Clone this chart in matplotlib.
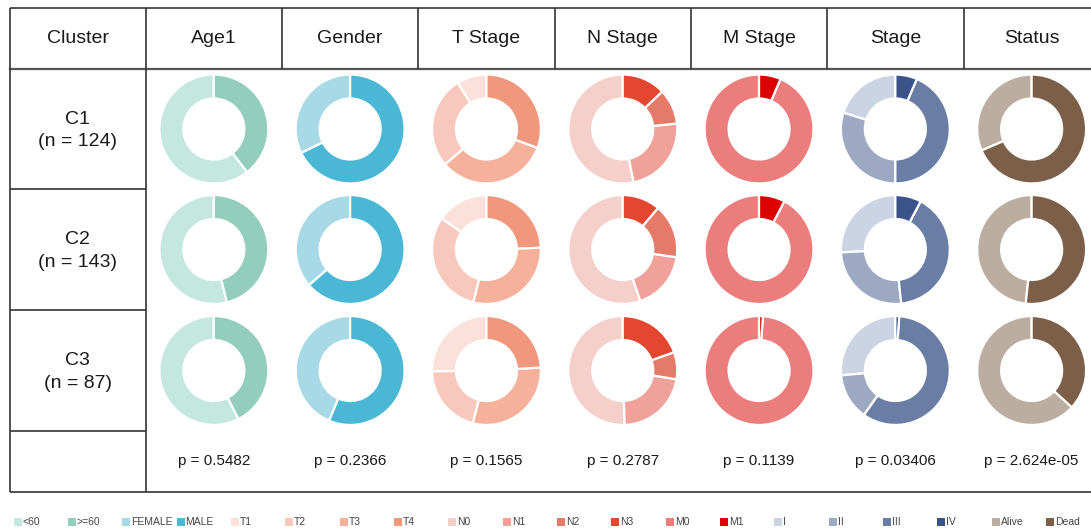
import matplotlib
matplotlib.use("Agg")
import matplotlib.pyplot as plt
from matplotlib.patches import Rectangle

plt.rcParams["font.family"] = ["Liberation Sans", "DejaVu Sans"]

# cluster labels and sizes
clusters = ["C1", "C2", "C3"]
cluster_n = [124, 143, 87]

# clinical variables (column headers)
variables = ["Age1", "Gender", "T Stage", "N Stage", "M Stage", "Stage", "Status"]

# patient counts per cluster, one list per cluster, categories in legend order
age1 = [[75, 49], [77, 66], [50, 37]]
gender = [[40, 84], [52, 91], [38, 49]]
t_stage = [[11, 34, 41, 38], [22, 44, 42, 35], [22, 18, 26, 21]]
n_stage = [[66, 29, 13, 16], [79, 25, 23, 16], [44, 19, 7, 17]]
m_stage = [[116, 8], [132, 11], [86, 1]]
stage = [[25, 37, 54, 8], [37, 37, 58, 11], [23, 12, 51, 1]]
status = [[39, 85], [69, 74], [55, 32]]

p_values = ["0.5482", "0.2366", "0.1565", "0.2787", "0.1139", "0.03406", "2.624e-05"]

# category labels per variable
age1_labels = ["<60", ">=60"]
gender_labels = ["FEMALE", "MALE"]
t_labels = ["T1", "T2", "T3", "T4"]
n_labels = ["N0", "N1", "N2", "N3"]
m_labels = ["M0", "M1"]
stage_labels = ["I", "II", "III", "IV"]
status_labels = ["Alive", "Dead"]

# colours per variable
age1_colors = ["#C4E7E0", "#93CEBD"]
gender_colors = ["#A7D9E6", "#4AB8D4"]
t_colors = ["#FCE1DB", "#F8C8BC", "#F6B19C", "#F1977B"]
n_colors = ["#F5D0CB", "#F0A29A", "#E67A68", "#E4472F"]
m_colors = ["#EB7D7D", "#DC0000"]
stage_colors = ["#CCD4E3", "#9DA8C2", "#6A7DA5", "#3B5388"]
status_colors = ["#BBAEA1", "#7C5F48"]

counts = [age1, gender, t_stage, n_stage, m_stage, stage, status]
labels = [age1_labels, gender_labels, t_labels, n_labels, m_labels, stage_labels, status_labels]
colors = [age1_colors, gender_colors, t_colors, n_colors, m_colors, stage_colors, status_colors]

W, H = 1091, 531
fig = plt.figure(figsize=(W / 100, H / 100), dpi=100)

# full-figure axes in pixel coordinates for the table grid and text
ax = fig.add_axes([0, 0, 1, 1])
ax.set_xlim(0, W)
ax.set_ylim(H, 0)
ax.axis("off")

left, first_col, col_w = 10, 145.7, 136.3
top, header_bottom = 8, 69
row_edges = [69, 189, 310, 431, 492]
right = first_col + col_w * len(variables)
line_kw = dict(color="#333333", linewidth=1.2, solid_capstyle="butt")

# outer frame and grid
ax.plot([left, right], [top, top], **line_kw)
ax.plot([left, right], [header_bottom, header_bottom], color="#555555", linewidth=1.6)
ax.plot([left, right], [row_edges[-1], row_edges[-1]], **line_kw)
ax.plot([left, left], [top, row_edges[-1]], **line_kw)
ax.plot([first_col, first_col], [top, row_edges[-1]], **line_kw)
for y in row_edges[1:-1]:
    ax.plot([left, first_col], [y, y], **line_kw)
for j in range(1, len(variables) + 1):
    x = first_col + col_w * j
    ax.plot([x, x], [top, header_bottom], **line_kw)

txt = "#1a1a1a"
header_y = (top + header_bottom) / 2
ax.text((left + first_col) / 2, header_y, "Cluster", ha="center", va="center", fontsize=14, color=txt)
col_centers = [first_col + col_w * (j + 0.5) for j in range(len(variables))]
for j, name in enumerate(variables):
    ax.text(col_centers[j], header_y, name, ha="center", va="center", fontsize=14, color=txt)

row_centers = [(row_edges[i] + row_edges[i + 1]) / 2 for i in range(len(clusters))]
cell_x = (left + first_col) / 2
for i, (c, n) in enumerate(zip(clusters, cluster_n)):
    ax.text(cell_x, row_centers[i] - 10, c, ha="center", va="center", fontsize=14, color=txt)
    ax.text(cell_x, row_centers[i] + 13, f"(n = {n})", ha="center", va="center", fontsize=14, color=txt)

p_y = (row_edges[-2] + row_edges[-1]) / 2
for j, p in enumerate(p_values):
    ax.text(col_centers[j], p_y, f"p = {p}", ha="center", va="center", fontsize=11, color=txt)

# donuts
R = 55
for j in range(len(variables)):
    for i in range(len(clusters)):
        cx, cy = col_centers[j], row_centers[i]
        dax = fig.add_axes([(cx - R) / W, 1 - (cy + R) / H, 2 * R / W, 2 * R / H])
        dax.pie(counts[j][i], colors=colors[j], startangle=90, counterclock=True,
                radius=1, wedgeprops=dict(width=0.44, edgecolor="white", linewidth=1.6))
        dax.set_xlim(-1.01, 1.01)
        dax.set_ylim(-1.01, 1.01)
        dax.axis("off")

# legend along the bottom
legend_labels = [l for group in labels for l in group]
legend_colors = [c for group in colors for c in group]
leg_y = 522
for k, (lab, col) in enumerate(zip(legend_labels, legend_colors)):
    x = 13.5 + 54.35 * k
    ax.add_patch(Rectangle((x, leg_y - 4), 8, 8, facecolor=col, edgecolor="none"))
    ax.text(x + 9, leg_y, lab, ha="left", va="center", fontsize=7.5, color="#444444")

fig.savefig("out.png", dpi=100)
